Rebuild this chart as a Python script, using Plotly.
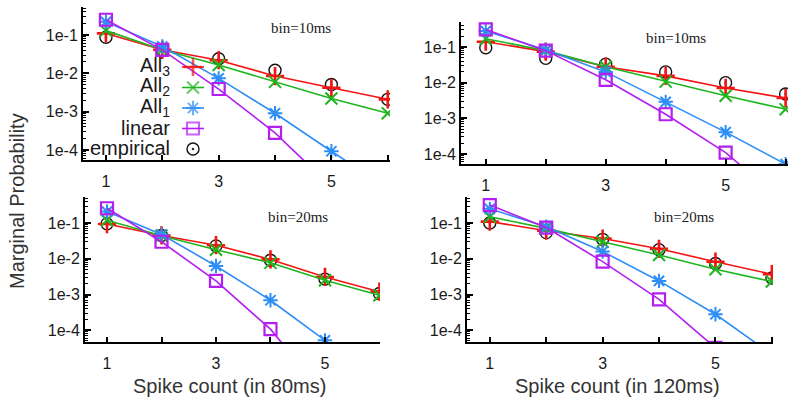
import plotly.graph_objects as go

# ---------------- data ----------------
counts = [1, 2, 3, 4, 5, 6]

# panel A: bin=10ms, spike count in 80 ms
a_all3 = [0.11, 0.041, 0.022, 0.0085, 0.0042, 0.0021]
a_all2 = [0.13, 0.041, 0.0165, 0.006, 0.0022, 0.00091]
a_all1 = [0.22, 0.05, 0.0074, 0.00091, 9.3e-5, 1.0e-5]
a_linear = [0.25, 0.041, 0.0039, 0.00028, 1.1e-5]
a_emp = [0.087, 0.041, 0.024, 0.012, 0.0051, 0.0021]

# panel B: bin=10ms, spike count in 120 ms
b_all3 = [0.14, 0.074, 0.028, 0.0155, 0.0071, 0.0037]
b_all2 = [0.17, 0.079, 0.028, 0.0107, 0.0043, 0.0018]
b_all1 = [0.28, 0.083, 0.020, 0.0029, 0.00041, 5.2e-5]
b_linear = [0.31, 0.079, 0.012, 0.0013, 0.00011, 4e-6]
b_emp = [0.095, 0.048, 0.033, 0.020, 0.010, 0.0048]

# panel C: bin=20ms, spike count in 80 ms
c_all3 = [0.094, 0.045, 0.024, 0.0096, 0.0031, 0.0012]
c_all2 = [0.12, 0.044, 0.018, 0.0077, 0.0025, 0.00095]
c_all1 = [0.21, 0.048, 0.0063, 0.00069, 5.2e-5, 4e-6]
c_linear = [0.26, 0.030, 0.0024, 0.000107, 1.5e-6]
c_emp = [0.095, 0.045, 0.023, 0.0091, 0.0027, 0.00107]

# panel D: bin=20ms, spike count in 120 ms
d_all3 = [0.11, 0.061, 0.037, 0.019, 0.0083, 0.0037]
d_all2 = [0.15, 0.071, 0.030, 0.0127, 0.0051, 0.0023]
d_all1 = [0.25, 0.079, 0.016, 0.0024, 0.00028, 2.1e-5]
d_linear = [0.32, 0.075, 0.0083, 0.00073, 3.2e-5]
d_emp = [0.10, 0.054, 0.035, 0.018, 0.0074, 0.0029]

y_tickvals = [1e-4, 1e-3, 1e-2, 1e-1]
y_ticktext = ["1e-4", "1e-3", "1e-2", "1e-1"]
x_tickvals = [1, 2, 3, 4, 5, 6]
x_ticktext = ["1", "", "3", "", "5", ""]
series_names = ["All<sub>3</sub>", "All<sub>2</sub>", "All<sub>1</sub>", "linear", "empirical"]
panel_labels = ["bin=10ms", "bin=10ms", "bin=20ms", "bin=20ms"]
x_titles = ["Spike count (in 80ms)", "Spike count (in 120ms)"]
y_title = "Marginal Probability"

# ---------------- styles ----------------
W, H = 800, 402
RED, GREEN, BLUE, PURPLE = "#f41414", "#1fb51f", "#2e8ef5", "#b31ff0"
styles = [
    dict(color=RED, symbol="cross-thin", size=13, lw=2.6),
    dict(color=GREEN, symbol="x-thin", size=12, lw=2),
    dict(color=BLUE, symbol="asterisk", size=12, lw=2),
    dict(color=PURPLE, symbol="square-open", size=12, lw=2.2),
    dict(color="#111111", symbol="circle-open-dot", size=12, lw=1.4),
]

panels = [
    dict(data=[a_all3, a_all2, a_all1, a_linear, a_emp],
         px=(83, 390), py=(7, 160), xr=(0.593, 6.04), yr=(-4.26, -0.27)),
    dict(data=[b_all3, b_all2, b_all1, b_linear, b_emp],
         px=(461, 788), py=(22, 164), xr=(0.587, 6.04), yr=(-4.28, -0.30)),
    dict(data=[c_all3, c_all2, c_all1, c_linear, c_emp],
         px=(85, 380), py=(197, 342), xr=(0.596, 6.01), yr=(-4.33, -0.27)),
    dict(data=[d_all3, d_all2, d_all1, d_linear, d_emp],
         px=(467, 773), py=(197, 342), xr=(0.596, 6.02), yr=(-4.33, -0.27)),
]

minor_vals = [m * 10 ** e for e in range(-6, 0) for m in range(2, 10)]
tick_font = dict(family="Liberation Sans, Arial, sans-serif", size=16, color="#1a1a1a")

fig = go.Figure()
layout = dict(
    width=W, height=H, margin=dict(l=0, r=0, t=0, b=0),
    paper_bgcolor="white", plot_bgcolor="rgba(0,0,0,0)", showlegend=False,
    annotations=[],
)

for i, p in enumerate(panels):
    k = i + 1
    xa = "x" if k == 1 else f"x{k}"
    ya = "y" if k == 1 else f"y{k}"
    order = [4, 0, 1, 2, 3]
    for j in order:
        vals = p["data"][j]
        st = styles[j]
        fig.add_trace(go.Scatter(
            x=counts[:len(vals)], y=vals, xaxis=xa, yaxis=ya,
            mode="markers" if j == 4 else "lines+markers",
            line=dict(color=st["color"], width=1.6),
            marker=dict(symbol=st["symbol"], size=st["size"], color=st["color"],
                        line=dict(color=st["color"], width=st["lw"])),
            name=series_names[j], hoverinfo="skip",
        ))
    x0, x1 = p["px"]
    y0, y1 = p["py"]
    layout[f"xaxis{'' if k == 1 else k}"] = dict(
        domain=[x0 / W, x1 / W], anchor=ya, range=list(p["xr"]),
        showline=True, linecolor="black", linewidth=2, mirror=False,
        showgrid=False, zeroline=False,
        ticks="inside", ticklen=5, tickwidth=1.5, tickcolor="black",
        tickvals=x_tickvals, ticktext=x_ticktext, tickfont=tick_font,
        ticklabelstandoff=6,
    )
    layout[f"yaxis{'' if k == 1 else k}"] = dict(
        domain=[1 - y1 / H, 1 - y0 / H], anchor=xa, type="log", range=list(p["yr"]),
        showline=True, linecolor="black", linewidth=2, mirror=False,
        showgrid=False, zeroline=False,
        ticks="inside", ticklen=6, tickwidth=1.5, tickcolor="black",
        tickvals=y_tickvals, ticktext=y_ticktext, tickfont=tick_font,
        ticklabelstandoff=0,
        minor=dict(tickvals=minor_vals, ticks="inside", ticklen=3,
                   tickwidth=1, tickcolor="black", showgrid=False),
    )

# panel labels
label_pos = [(301, 28), (676, 38), (298, 217), (684, 217)]
for (lx, ly), txt in zip(label_pos, panel_labels):
    layout["annotations"].append(dict(
        text=txt, x=lx / W, y=1 - ly / H, xref="paper", yref="paper",
        xanchor="center", yanchor="middle", showarrow=False,
        font=dict(family="Liberation Serif, Times New Roman, serif", size=15, color="#222222"),
    ))

# axis titles
title_font = dict(family="Liberation Sans, Arial, sans-serif", size=20, color="#333333")
for (tx, ty), txt in zip([(229, 386), (617, 386)], x_titles):
    layout["annotations"].append(dict(
        text=txt, x=tx / W, y=1 - ty / H, xref="paper", yref="paper",
        xanchor="center", yanchor="middle", showarrow=False, font=title_font,
    ))
layout["annotations"].append(dict(
    text=y_title, x=17 / W, y=1 - 201 / H, xref="paper", yref="paper",
    xanchor="center", yanchor="middle", showarrow=False, textangle=-90, font=title_font,
))

# custom key (text right-aligned, sample on its right) in the first panel
LEG_TEXT_X = 172
LEG_Y0 = 66
LEG_DY = 20.5
LEG_SAMPLE = (182, 193, 204)
key_font = dict(family="Liberation Sans, Arial, sans-serif", size=20, color="#1a1a1a")
for j, name in enumerate(series_names):
    yc = LEG_Y0 + j * LEG_DY
    layout["annotations"].append(dict(
        text=name, x=LEG_TEXT_X / W, y=1 - yc / H, xref="paper", yref="paper",
        xanchor="right", yanchor="middle", showarrow=False, font=key_font,
    ))
    st = styles[j]
    if j == 4:
        sx, sy, ss = [LEG_SAMPLE[1]], [yc + 1], st["size"]
    else:
        sx, sy, ss = list(LEG_SAMPLE), [yc + 1] * 3, [0, st["size"], 0]
    fig.add_trace(go.Scatter(
        x=sx, y=sy, xaxis="x5", yaxis="y5",
        mode="markers" if j == 4 else "lines+markers",
        line=dict(color=st["color"], width=1.6),
        marker=dict(symbol=st["symbol"], size=ss, color=st["color"],
                    line=dict(color=st["color"], width=st["lw"])),
        hoverinfo="skip", cliponaxis=False,
    ))

layout["xaxis5"] = dict(domain=[0, 1], anchor="y5", range=[0, W], visible=False, fixedrange=True)
layout["yaxis5"] = dict(domain=[0, 1], anchor="x5", range=[H, 0], visible=False, fixedrange=True)

fig.update_layout(**layout)
fig.write_html(
    "out.html",
    config={"displayModeBar": False},
    post_script="document.body.style.margin='0';document.body.style.overflow='hidden';",
)
